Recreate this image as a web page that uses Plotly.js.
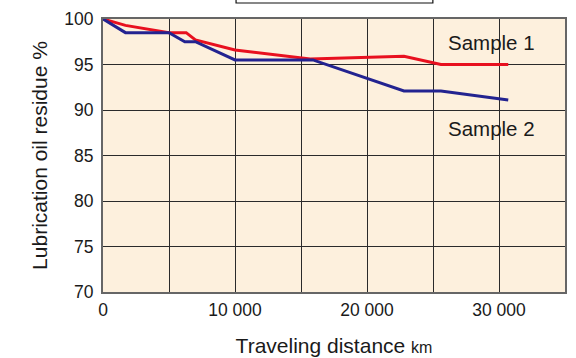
<!DOCTYPE html>
<html>
<head>
<meta charset="utf-8">
<script src="https://cdn.plot.ly/plotly-3.0.1.min.js"></script>
<style>html,body{margin:0;padding:0;background:#fff;}#chart{width:576px;height:358px;}</style>
</head>
<body>
<div id="chart"></div>
<script>
// Sample 1 (red)
const sample1X = [0, 1700, 5000, 6300, 7000, 10000, 15700, 22800, 25600, 30700];
const sample1Y = [100, 99.3, 98.5, 98.5, 97.7, 96.6, 95.6, 95.9, 95.0, 95.0];
// Sample 2 (blue)
const sample2X = [0, 1700, 5000, 6200, 7000, 10000, 15900, 22800, 25600, 30700];
const sample2Y = [100, 98.5, 98.5, 97.5, 97.5, 95.5, 95.5, 92.1, 92.1, 91.1];

const xTickVals = [0, 5000, 10000, 15000, 20000, 25000, 30000, 35000];
const xTickText = ["0", "", "10 000", "", "20 000", "", "30 000", ""];
const yTickVals = [70, 75, 80, 85, 90, 95, 100];
const yTickText = ["70", "75", "80", "85", "90", "95", "100"];

const seriesNames = ["Sample 1", "Sample 2"];
const labelPos = [[29450, 97.4], [29450, 88.0]];

const font = "Liberation Sans, Arial, Helvetica, sans-serif";

const traces = [
  {x: sample1X, y: sample1Y, mode: "lines", name: seriesNames[0],
   line: {color: "#e8101f", width: 3}},
  {x: sample2X, y: sample2Y, mode: "lines", name: seriesNames[1],
   line: {color: "#232390", width: 3}}
];

const layout = {
  width: 576, height: 358,
  margin: {l: 103, r: 11, t: 19, b: 66},
  paper_bgcolor: "#ffffff",
  plot_bgcolor: "#fdf0dd",
  showlegend: false,
  font: {family: font, color: "#1a1a1a", size: 18},
  xaxis: {
    range: [0, 35000], tickvals: xTickVals, ticktext: xTickText,
    showgrid: true, gridcolor: "#2a2a2a", gridwidth: 1,
    zeroline: false, showline: true, linecolor: "#666", linewidth: 2, mirror: true,
    ticks: "", tickfont: {size: 17.5, family: font}, ticklabelstandoff: 1,
    title: {text: "Traveling distance <span style='font-size:16px'>km</span>", font: {size: 21, family: font}, standoff: 19}
  },
  yaxis: {
    range: [70, 100], tickvals: yTickVals, ticktext: yTickText,
    showgrid: true, gridcolor: "#2a2a2a", gridwidth: 1,
    zeroline: false, showline: true, linecolor: "#666", linewidth: 2, mirror: true,
    ticks: "", tickfont: {size: 17.5, family: font}, ticklabelstandoff: 4,
    title: {text: "Lubrication oil residue %", font: {size: 21, family: font}, standoff: 11}
  },
  annotations: seriesNames.map((n, i) => ({
    x: labelPos[i][0], y: labelPos[i][1], xref: "x", yref: "y",
    text: n, showarrow: false, font: {size: 20.5, family: font, color: "#1a1a1a"},
    bgcolor: "rgba(0,0,0,0)"
  })),
  shapes: [{
    type: "rect", xref: "paper", yref: "paper",
    x0: 0.288, x1: 0.714, y0: 1.0586, y1: 1.09,
    line: {color: "#111", width: 1.2}, fillcolor: "rgba(0,0,0,0)"
  }]
};

Plotly.newPlot("chart", traces, layout, {displayModeBar: false, staticPlot: true});
</script>
</body>
</html>
